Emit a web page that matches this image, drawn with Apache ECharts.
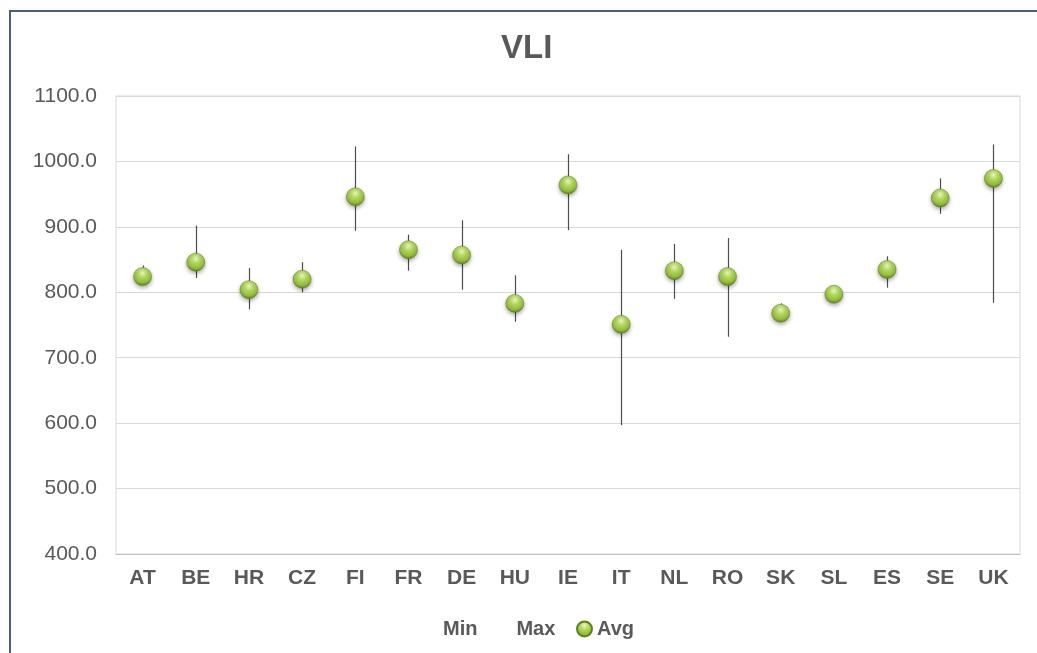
<!DOCTYPE html>
<html>
<head>
<meta charset="utf-8">
<script src="https://cdn.jsdelivr.net/npm/echarts@6/dist/echarts.min.js"></script>
<style>
  html, body { margin: 0; padding: 0; background: #fff; overflow: hidden; }
  #frame { position: absolute; left: 9px; top: 10px; width: 1200px; height: 800px; border: 2px solid #4f5d73; box-sizing: border-box; }
  #chart { position: absolute; left: 0; top: 0; width: 1037px; height: 653px; }
</style>
</head>
<body>
<div id="frame"></div>
<div id="chart"></div>
<script>
const categories = ['AT','BE','HR','CZ','FI','FR','DE','HU','IE','IT','NL','RO','SK','SL','ES','SE','UK'];
const avgValues = [824, 846, 804, 820, 946, 865, 857, 783, 964, 751, 833, 824, 768, 797, 835, 944, 974];
const minValues = [818, 822, 774, 800, 894, 833, 804, 755, 895, 597, 790, 732, 760, 793, 807, 920, 784];
const maxValues = [841, 902, 837, 846, 1023, 888, 910, 826, 1011, 865, 874, 883, 783, 800, 855, 974, 1026];
const yTicks = [400, 500, 600, 700, 800, 900, 1000, 1100];

const textColor = '#595959';
const font = 'Liberation Sans, Arial, sans-serif';

const chart = echarts.init(document.getElementById('chart'), null, { renderer: 'canvas' });

const sphere = {
  type: 'radial', x: 0.5, y: 0.3, r: 0.7,
  colorStops: [
    { offset: 0, color: '#eaf7c0' },
    { offset: 0.35, color: '#b3d862' },
    { offset: 0.75, color: '#93bb3e' },
    { offset: 1, color: '#5e7e1e' }
  ]
};

const barData = categories.map((c, i) => [i, minValues[i], maxValues[i]]);

chart.setOption({
  animation: false,
  backgroundColor: 'transparent',
  title: {
    text: 'VLI',
    left: 501, top: 32, padding: 0,
    textStyle: { fontFamily: font, fontSize: 33, fontWeight: 'bold', color: textColor }
  },
  grid: {
    left: 116, right: 17, top: 96, bottom: 99,
    show: true, borderColor: '#d9d9d9', borderWidth: 1
  },
  xAxis: {
    type: 'category',
    data: categories,
    boundaryGap: true,
    axisLine: { show: true, lineStyle: { color: '#bfbfbf', width: 1 } },
    axisTick: { show: false },
    axisLabel: { margin: 14, fontFamily: font, fontSize: 21, fontWeight: 'bold', color: textColor }
  },
  yAxis: {
    type: 'value',
    min: yTicks[0], max: yTicks[yTicks.length - 1], interval: 100,
    axisLine: { show: false },
    axisTick: { show: false },
    splitLine: { show: true, lineStyle: { color: '#d9d9d9', width: 1 } },
    axisLabel: {
      margin: 19, fontFamily: font, fontSize: 21, color: textColor,
      formatter: v => v.toFixed(1)
    }
  },
  legend: [
    {
      data: [{ name: 'Min', icon: 'none' }, { name: 'Max', icon: 'none' }],
      left: 438, top: 619, itemWidth: 0, itemHeight: 14, itemGap: 34, padding: 0,
      selectedMode: false,
      textStyle: { fontFamily: font, fontSize: 20, fontWeight: 'bold', color: textColor }
    },
    {
      data: [{ name: 'Avg', icon: 'circle', itemStyle: { color: sphere, opacity: 1 } }],
      left: 576, top: 619, itemWidth: 15, itemHeight: 15, padding: 0,
      selectedMode: false,
      textStyle: { fontFamily: font, fontSize: 20, fontWeight: 'bold', color: textColor }
    }
  ],
  series: [
    {
      name: 'Range',
      type: 'custom',
      data: barData,
      z: 2,
      renderItem: function (params, api) {
        const p1 = api.coord([api.value(0), api.value(1)]);
        const p2 = api.coord([api.value(0), api.value(2)]);
        return {
          type: 'line',
          shape: { x1: Math.round(p1[0]) + 0.5, y1: p1[1], x2: Math.round(p2[0]) + 0.5, y2: p2[1] },
          style: { stroke: '#4d4d4d', lineWidth: 1.2 }
        };
      }
    },
    { name: 'Min', type: 'scatter', data: minValues, symbol: 'none', symbolSize: 0, silent: true },
    { name: 'Max', type: 'scatter', data: maxValues, symbol: 'none', symbolSize: 0, silent: true },
    {
      name: 'Avg',
      type: 'scatter',
      data: avgValues,
      z: 5,
      symbol: 'circle',
      symbolSize: 18,
      itemStyle: {
        color: sphere,
        opacity: 1,
        borderColor: '#5e7e1e', borderWidth: 0.5,
        shadowBlur: 4, shadowColor: 'rgba(0,0,0,0.35)', shadowOffsetY: 2
      }
    }
  ]
});
</script>
</body>
</html>
